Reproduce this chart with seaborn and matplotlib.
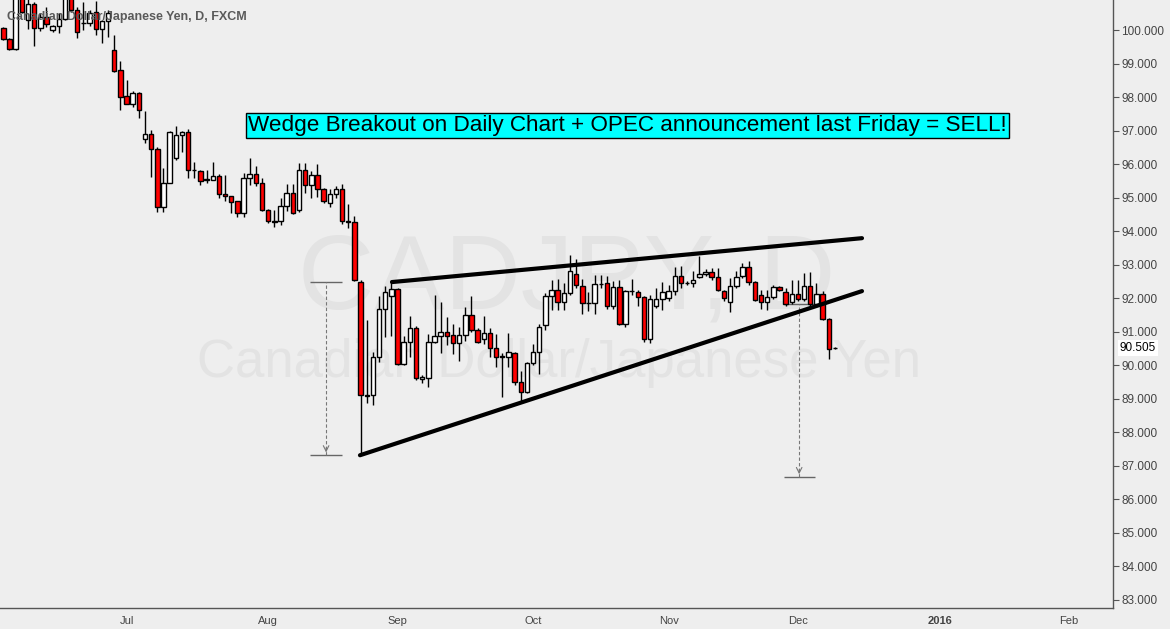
import numpy as np
import pandas as pd
import seaborn as sns
import matplotlib
matplotlib.use("Agg")
import matplotlib.pyplot as plt

# daily CADJPY candles (first bar = 2015-06-03)
opens = [100.05, 99.75, 99.45, 101.1, 100.3, 100.77, 100.05, 100.38, 100.0, 100.12,
         100.33, 101.0, 100.6, 100.2, 100.2, 100.53, 100.02, 100.27, 99.4, 98.8,
         98.03, 97.81, 98.11, 96.74, 96.89, 96.44, 94.71, 95.45, 96.19, 96.87,
         96.95, 95.83, 95.8, 95.52, 95.54, 95.66, 95.1, 95.04, 94.89, 94.53,
         95.6, 95.72, 95.45, 94.62, 94.3, 94.29, 94.74, 95.13, 94.62, 95.84,
         95.39, 95.69, 95.27, 94.83, 95.1, 95.27, 94.29, 94.26, 92.47, 89.12,
         89.1, 90.23, 91.69, 92.07, 92.27, 90.02, 90.68, 91.1, 89.6, 89.63,
         90.7, 90.87, 91.0, 90.9, 90.65, 90.89, 91.51, 91.04, 90.78, 90.95,
         90.5, 90.25, 90.23, 90.35, 89.51, 89.2, 90.06, 90.38, 91.19, 92.06,
         92.24, 91.89, 92.14, 92.71, 92.36, 91.84, 91.86, 92.41, 92.46, 91.77,
         92.32, 91.24, 92.2, 92.17, 92.04, 90.77, 91.77, 91.97, 91.99, 92.21,
         92.67, 92.44, 92.46, 92.64, 92.71, 92.77, 92.62, 92.22, 91.87, 92.37,
         92.66, 92.92, 92.47, 92.09, 91.89, 92.04, 92.32, 92.17, 91.89, 92.11,
         91.96, 92.36, 91.82, 92.11, 91.39, 90.52]
highs = [100.1, 99.78, 101.3, 101.3, 101.0, 100.85, 100.5, 100.7, 100.15, 100.5,
         101.2, 101.2, 100.7, 100.85, 100.6, 100.87, 100.3, 100.6, 99.85, 99.07,
         98.5, 98.17, 98.15, 97.58, 97.01, 96.5, 95.87, 97.0, 97.13, 97.0,
         97.04, 96.05, 95.82, 95.84, 96.05, 95.72, 95.67, 95.06, 94.9, 95.75,
         96.17, 95.94, 95.6, 94.65, 94.63, 95.0, 95.4, 95.4, 96.02, 96.02,
         95.79, 95.99, 95.3, 95.27, 95.36, 95.4, 94.81, 94.45, 92.54, 91.34,
         90.4, 92.06, 92.36, 92.54, 92.3, 90.87, 91.46, 91.16, 89.7, 90.93,
         92.09, 91.89, 91.44, 91.24, 91.14, 91.74, 92.06, 91.1, 91.46, 91.1,
         90.93, 90.37, 90.95, 90.4, 89.82, 90.1, 90.63, 91.22, 92.16, 92.54,
         92.56, 92.45, 93.28, 93.18, 92.56, 92.19, 92.69, 92.69, 92.66, 92.51,
         92.54, 92.24, 92.56, 92.24, 92.06, 92.09, 92.3, 92.47, 92.4, 92.93,
         92.96, 92.5, 92.8, 93.26, 92.86, 92.9, 92.9, 92.25, 92.6, 92.8,
         93.05, 93.11, 92.5, 92.24, 92.24, 92.38, 92.36, 92.29, 92.54, 92.54,
         92.74, 92.78, 92.44, 92.2, 91.4, 90.55]
lows = [99.7, 99.42, 99.4, 100.5, 100.02, 99.53, 99.98, 100.1, 99.93, 99.92,
        100.3, 100.55, 99.78, 100.0, 100.13, 99.87, 99.63, 99.8, 98.76, 97.63,
        97.8, 97.7, 97.39, 96.64, 95.62, 94.56, 94.56, 95.43, 96.12, 96.37,
        95.59, 95.6, 95.39, 95.45, 95.54, 95.0, 94.9, 94.53, 94.43, 94.41,
        95.37, 95.36, 94.6, 94.23, 94.13, 94.19, 94.6, 94.5, 94.56, 95.13,
        94.99, 95.02, 94.85, 94.71, 95.0, 94.2, 94.08, 92.52, 87.31, 88.86,
        88.8, 90.1, 90.83, 90.87, 90.0, 90.0, 90.23, 89.55, 89.48, 89.35,
        90.65, 90.37, 90.6, 90.33, 90.13, 90.73, 91.0, 90.65, 90.63, 90.25,
        89.95, 89.04, 89.95, 89.4, 88.9, 89.18, 90.0, 89.75, 91.06, 91.66,
        91.64, 91.64, 92.09, 92.3, 91.52, 91.62, 91.52, 92.3, 91.69, 91.69,
        91.2, 91.13, 92.1, 91.77, 90.7, 90.65, 91.7, 91.64, 91.9, 92.1,
        92.3, 92.4, 92.34, 92.6, 92.65, 92.55, 92.2, 91.9, 91.6, 92.3,
        92.6, 92.4, 91.9, 91.69, 91.65, 91.98, 92.2, 91.76, 91.82, 91.9,
        91.9, 91.76, 91.75, 91.35, 90.17, 90.47]
closes = [99.75, 99.45, 101.1, 100.55, 100.77, 100.05, 100.38, 100.17, 100.12, 100.33,
          101.0, 100.6, 99.93, 100.2, 100.5, 100.02, 100.27, 100.5, 98.79, 98.0,
          97.81, 98.11, 97.63, 96.89, 96.44, 94.71, 95.45, 96.95, 96.87, 96.95,
          95.84, 95.82, 95.51, 95.55, 95.66, 95.1, 95.04, 94.86, 94.53, 95.6,
          95.72, 95.45, 94.62, 94.29, 94.28, 94.74, 95.13, 94.53, 95.84, 95.39,
          95.69, 95.27, 94.89, 95.1, 95.27, 94.29, 94.28, 92.54, 89.1, 89.09,
          90.23, 91.69, 92.17, 92.27, 90.02, 90.68, 91.1, 89.63, 89.64, 90.7,
          90.87, 91.0, 90.87, 90.65, 90.9, 91.51, 91.04, 90.7, 90.95, 90.5,
          90.25, 90.24, 90.4, 89.5, 89.2, 90.06, 90.38, 91.13, 92.06, 92.24,
          91.89, 92.14, 92.81, 92.39, 91.84, 91.86, 92.41, 92.42, 91.77, 92.32,
          91.24, 92.21, 92.22, 92.04, 90.77, 91.96, 91.97, 92.19, 92.21, 92.67,
          92.46, 92.45, 92.54, 92.71, 92.77, 92.62, 92.24, 91.99, 92.37, 92.64,
          92.92, 92.47, 91.94, 91.89, 92.04, 92.32, 92.24, 91.82, 92.11, 91.96,
          92.36, 91.82, 92.11, 91.39, 90.47, 90.505]

start_day = "2015-06-03"
n_slots = 181
month_starts = ["2015-07-01", "2015-08-03", "2015-09-01", "2015-10-01",
                "2015-11-02", "2015-12-01", "2016-01-01", "2016-02-01"]
month_labels = ["Jul", "Aug", "Sep", "Oct", "Nov", "Dec", "2016", "Feb"]
price_ticks = list(range(83, 101))
last_price = 90.505

# drawings: wedge lines and measured-move rulers (bar index, price)
upper_x, upper_y = [63.1, 139.4], [92.48, 93.79]
lower_x, lower_y = [57.9, 139.4], [87.31, 92.21]
ruler1_x, ruler1_y = [49.8, 52.4, 55.0], [92.48, 87.31]
ruler2_x, ruler2_y = [126.7, 129.2, 131.8], [91.82, 86.66]

note = "Wedge Breakout on Daily Chart + OPEC announcement last Friday = SELL!"

sns.set_style("white")
plt.rcParams['font.family'] = ['Liberation Sans', 'DejaVu Sans']

dates = pd.bdate_range(start_day, periods=n_slots)
df = pd.DataFrame({"open": opens, "high": highs, "low": lows, "close": closes})
df["x"] = np.arange(len(df))
up = df["close"] >= df["open"]

bg = "#eeeeee"
fig = plt.figure(figsize=(11.7, 6.29), dpi=100, facecolor=bg)
ax = fig.add_axes([0, 21 / 629, 1113 / 1170, 608 / 629])
ax.set_facecolor(bg)

# watermark
ax.text(0.509, 0.493, "CADJPY, D", transform=ax.transAxes, ha="center", va="baseline",
        fontsize=76, color="#e3e3e3", zorder=0)
ax.text(0.502, 0.38, "Canadian Dollar/Japanese Yen", transform=ax.transAxes, ha="center",
        va="baseline", fontsize=38, color="#e3e3e3", zorder=0)

# candles
ax.vlines(df["x"], df["low"], df["high"], color="black", lw=1, zorder=2)
body_lo = np.minimum(df["open"], df["close"])
body_h = np.maximum((df["close"] - df["open"]).abs(), 0.02)
ax.bar(df["x"], body_h, bottom=body_lo, width=0.72,
       color=np.where(up, "white", "#ff0000"), edgecolor="black", linewidth=1, zorder=3)

# wedge
sns.lineplot(x=upper_x, y=upper_y, color="black", lw=3, ax=ax, legend=False, zorder=4)
sns.lineplot(x=lower_x, y=lower_y, color="black", lw=3, ax=ax, legend=False, zorder=4)

# rulers
for rx, ry in [(ruler1_x, ruler1_y), (ruler2_x, ruler2_y)]:
    ax.hlines(ry, rx[0], rx[2], color="#666666", lw=1, zorder=1)
    ax.vlines(rx[1], ry[1], ry[0], color="#777777", lw=0.8, linestyles=(0, (3, 2)), zorder=1)
    ax.annotate("", xy=(rx[1], ry[1]), xytext=(rx[1], ry[1] + 0.3),
                arrowprops=dict(arrowstyle="->", color="#777777", lw=0.8), zorder=1)

# header and note
ax.text(7 / 1113, 0.972, "Canadian Dollar/Japanese Yen, D, FXCM", transform=ax.transAxes,
        ha="left", va="center", fontsize=9, fontweight="bold", color="#5a5a5a", zorder=5)
ax.text(0.5634, 0.7936, note, transform=ax.transAxes, ha="center", va="center",
        fontsize=16.2, color="black", zorder=6,
        bbox=dict(boxstyle="square,pad=0.1", facecolor="#00ffff", edgecolor="black", lw=1))

ax.set_xlim(-0.54, 180.15)
ax.set_ylim(82.75, 100.9)

# axes styling
for side in ["left", "top"]:
    ax.spines[side].set_visible(False)
for side in ["right", "bottom"]:
    ax.spines[side].set_color("#555555")
    ax.spines[side].set_linewidth(1)

ax.yaxis.tick_right()
ax.set_yticks(price_ticks)
ax.set_yticklabels([f"{p:.3f}" for p in price_ticks])
ax.tick_params(axis="y", length=4, width=0.8, colors="#555555", labelsize=8.5,
               labelcolor="#444444", pad=2)

tick_pos = dates.get_indexer(pd.to_datetime(month_starts))
ax.set_xticks(tick_pos)
ax.set_xticklabels(month_labels)
ax.tick_params(axis="x", length=4, width=0.8, colors="#555555", labelsize=8,
               labelcolor="#444444", pad=2)
for lbl in ax.get_xticklabels():
    if lbl.get_text() == "2016":
        lbl.set_fontweight("bold")
ax.grid(False)

ax.annotate(f"{last_price:.3f}", xy=(1, last_price), xycoords=("axes fraction", "data"),
            xytext=(5, 0), textcoords="offset points", ha="left", va="center",
            fontsize=8.5, color="black",
            bbox=dict(boxstyle="square,pad=0.15", facecolor="white", edgecolor="none"))

fig.savefig("out.png", dpi=100, facecolor=bg)
